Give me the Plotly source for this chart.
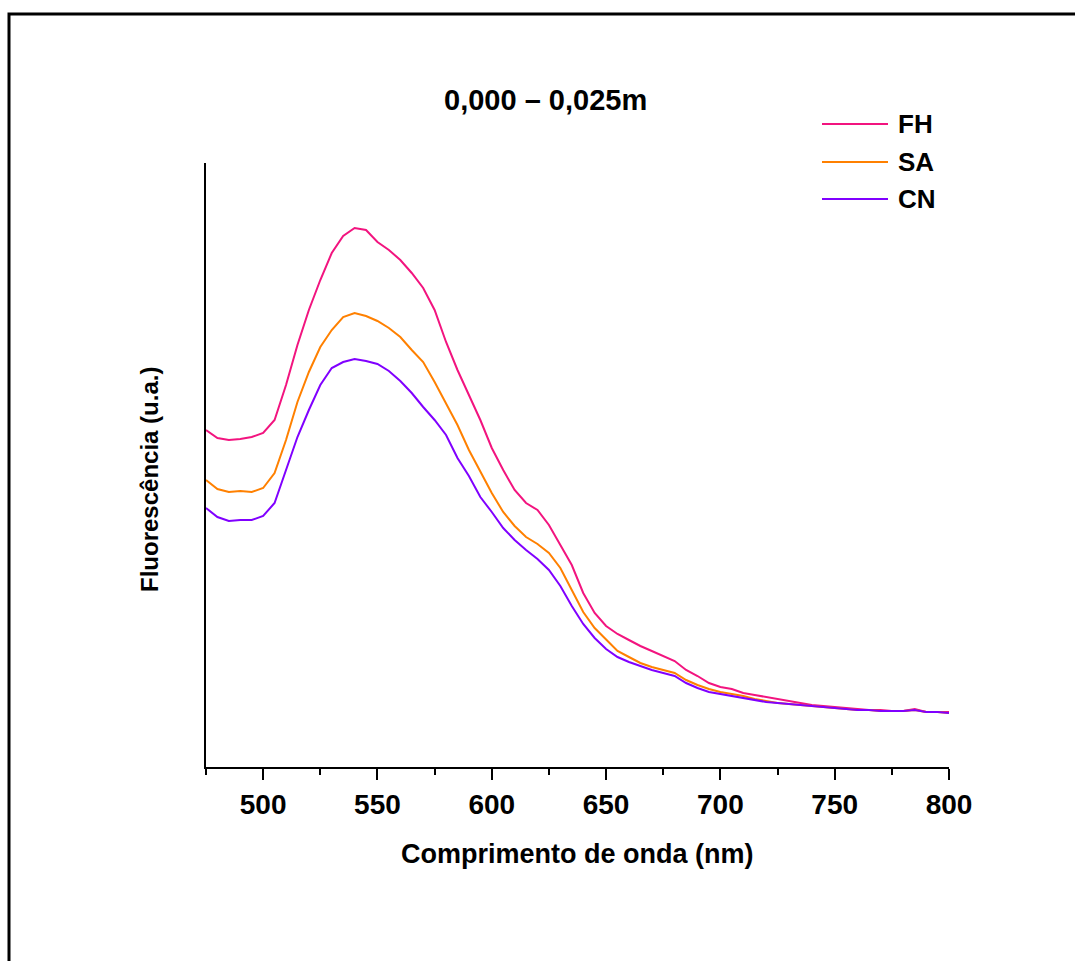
import plotly.graph_objects as go

wavelength = [475, 480, 485, 490, 495, 500, 505, 510, 515, 520,
              525, 530, 535, 540, 545, 550, 555, 560, 565, 570,
              575, 580, 585, 590, 595, 600, 605, 610, 615, 620,
              625, 630, 635, 640, 645, 650, 655, 660, 665, 670,
              675, 680, 685, 690, 695, 700, 705, 710, 715, 720,
              725, 730, 735, 740, 745, 750, 755, 760, 765, 770,
              775, 780, 785, 790, 795, 800]

fh = [337, 329, 327, 328, 330, 334, 347, 382, 422, 457,
      487, 514, 531, 539, 537, 525, 517, 507, 494, 479,
      457, 425, 397, 372, 347, 319, 297, 277, 264, 257,
      242, 222, 202, 174, 154, 141, 133, 127, 121, 116,
      111, 106, 97, 91, 84, 80, 78, 74, 72, 70,
      68, 66, 64, 62, 61, 60, 59, 58, 57, 57,
      56, 56, 58, 55, 55, 55]

sa = [287, 278, 275, 276, 275, 279, 294, 327, 365, 395,
      420, 437, 450, 454, 451, 446, 439, 430, 417, 405,
      385, 364, 342, 317, 295, 274, 255, 241, 230, 223,
      214, 199, 177, 155, 139, 127, 116, 110, 104, 100,
      97, 94, 87, 82, 78, 75, 73, 71, 68, 66,
      64, 63, 62, 61, 60, 59, 58, 57, 57, 56,
      56, 56, 57, 55, 55, 54]

cn = [259, 250, 246, 247, 247, 251, 264, 297, 330, 357,
      382, 399, 405, 408, 406, 403, 396, 386, 374, 360,
      347, 332, 309, 291, 270, 255, 239, 227, 217, 208,
      197, 181, 161, 143, 129, 118, 110, 105, 101, 97,
      94, 91, 84, 79, 75, 73, 71, 69, 67, 65,
      64, 63, 62, 61, 60, 59, 58, 57, 57, 56,
      56, 56, 57, 55, 55, 54]

series_names = ["FH", "SA", "CN"]
series_colors = ["#F2147F", "#FF8000", "#8000FF"]
series_values = [fh, sa, cn]

title_text = "0,000 – 0,025m"
x_title = "Comprimento de onda (nm)"
y_title = "Fluorescência (u.a.)"
x_tickvals = [500, 550, 600, 650, 700, 750, 800]

FONT = "Arial, Liberation Sans, sans-serif"

fig = go.Figure()
for name, col, vals in zip(series_names, series_colors, series_values):
    fig.add_trace(go.Scatter(x=wavelength, y=vals, mode="lines", name=name,
                             line=dict(color=col, width=2), showlegend=False))

W, H = 1075, 961
L, R, T, B = 206, 126, 163, 194
pw, ph = W - L - R, H - T - B

def px(xp):
    return (xp - L) / pw

def py(yp):
    return (H - B - yp) / ph

shapes = []
annotations = []
# outer frame
shapes.append(dict(type="rect", xref="paper", yref="paper",
                   x0=px(9), x1=px(1110), y0=py(14), y1=py(1000),
                   line=dict(color="black", width=3), fillcolor="rgba(0,0,0,0)", layer="below"))

# manual legend
leg_y = [124, 162, 199]
for name, col, yy in zip(series_names, series_colors, leg_y):
    shapes.append(dict(type="line", xref="paper", yref="paper",
                       x0=px(822), x1=px(888), y0=py(yy), y1=py(yy),
                       line=dict(color=col, width=2)))
    annotations.append(dict(text=name, xref="paper", yref="paper", x=px(896), y=py(yy),
                            xanchor="left", yanchor="middle", showarrow=False,
                            font=dict(family=FONT, size=26, color="black", weight="bold")))

annotations.append(dict(text=title_text, xref="paper", yref="paper", x=px(545), y=py(100),
                        xanchor="center", yanchor="middle", showarrow=False,
                        font=dict(family=FONT, size=29, color="black", weight="bold")))
annotations.append(dict(text=x_title, xref="paper", yref="paper", x=px(577), y=py(854),
                        xanchor="center", yanchor="middle", showarrow=False,
                        font=dict(family=FONT, size=27, color="black", weight="bold")))
annotations.append(dict(text=y_title, xref="paper", yref="paper", x=px(149), y=py(480),
                        xanchor="center", yanchor="middle", showarrow=False, textangle=-90,
                        font=dict(family=FONT, size=24, color="black", weight="bold")))

fig.update_layout(
    width=W, height=H,
    margin=dict(l=L, r=R, t=T, b=B, pad=0),
    paper_bgcolor="white", plot_bgcolor="white",
    shapes=shapes, annotations=annotations,
    xaxis=dict(range=[475, 800], tickvals=x_tickvals, ticks="outside", ticklen=11,
               tickwidth=2, tickcolor="black", showline=True, linecolor="black", linewidth=2,
               showgrid=False, zeroline=False,
               tickfont=dict(family=FONT, size=28, color="black", weight="bold"),
               minor=dict(tickvals=[475, 525, 575, 625, 675, 725, 775], ticks="outside",
                          ticklen=6, tickwidth=2, tickcolor="black", showgrid=False)),
    yaxis=dict(range=[0, 604], showline=True, linecolor="black", linewidth=2,
               ticks="", showticklabels=False, showgrid=False, zeroline=False),
)

fig.write_html("out.html")
